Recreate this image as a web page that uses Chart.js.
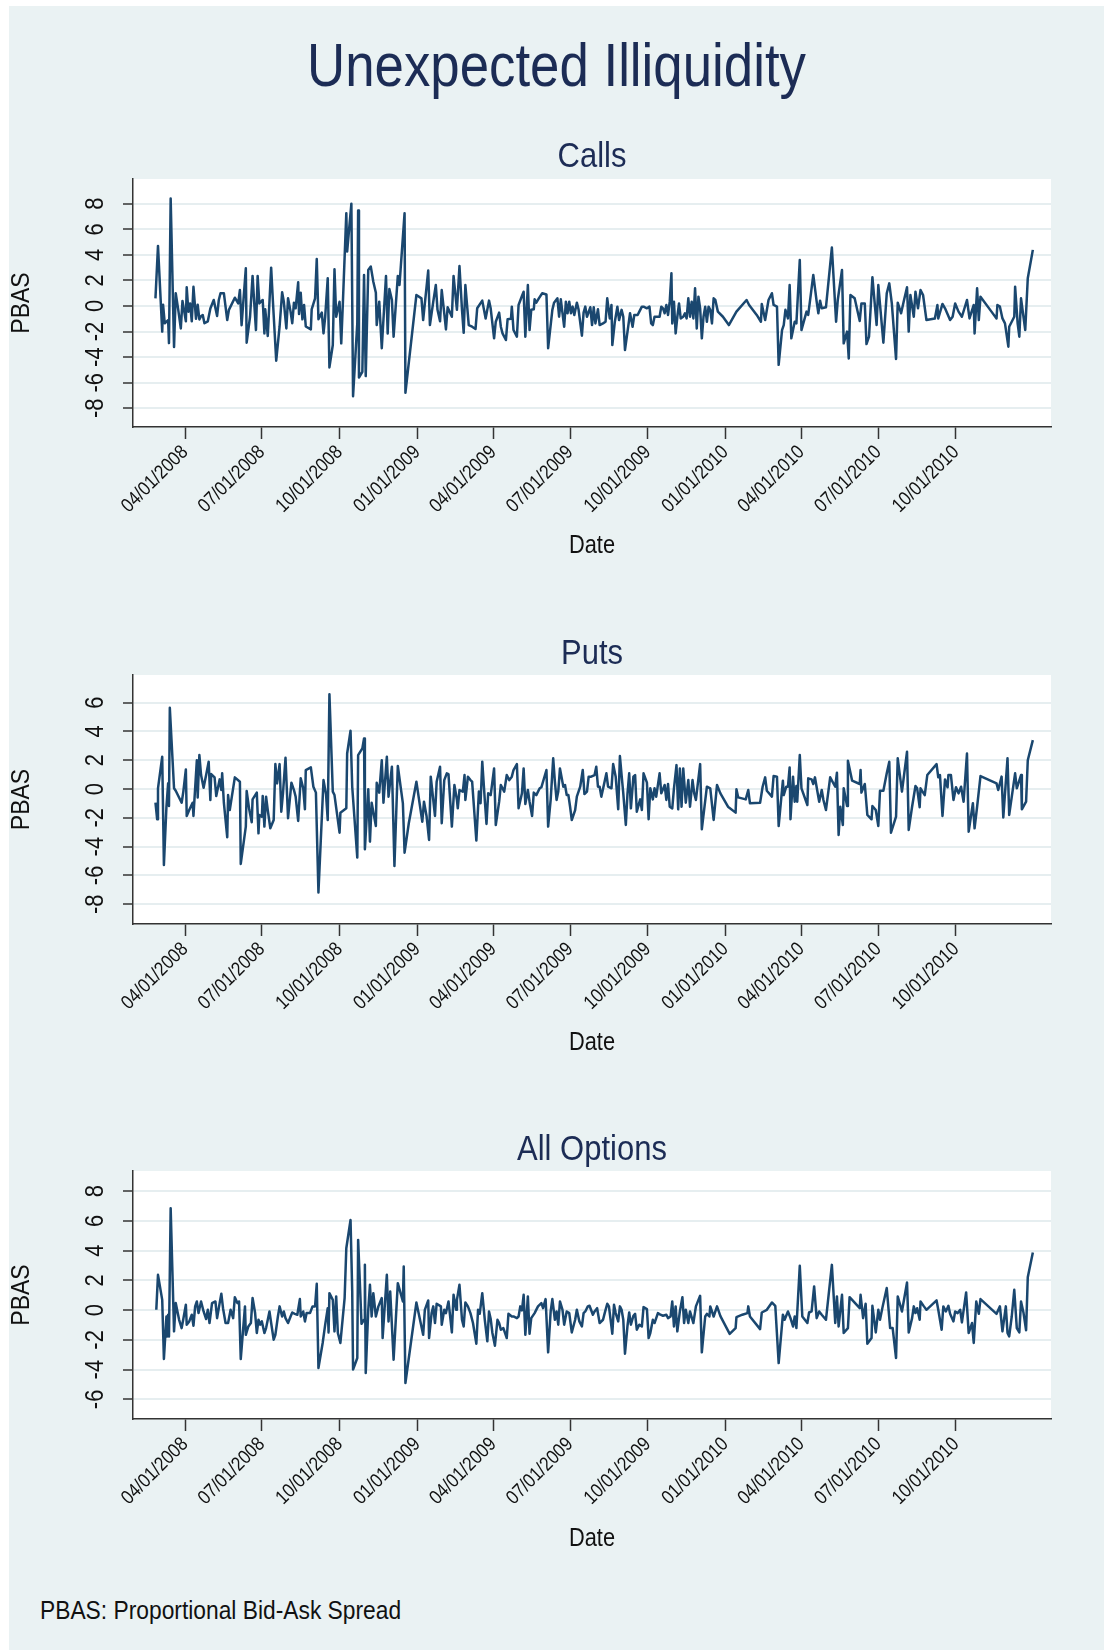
<!DOCTYPE html>
<html><head><meta charset="utf-8">
<script src="https://cdn.jsdelivr.net/npm/chart.js@4.4.1/dist/chart.umd.min.js"></script>
<style>
html,body{margin:0;padding:0;background:#fff;}
#page{position:relative;width:1104px;height:1650px;overflow:hidden;background:#fff;font-family:"Liberation Sans",Arial,Helvetica,sans-serif;}
#bg{position:absolute;left:9px;top:6px;right:0;bottom:0;background:#eaf2f3;}
#title{position:absolute;left:9px;right:0;text-align:center;line-height:1;color:#1c2c55;white-space:nowrap;}
#note{position:absolute;left:40px;line-height:1;color:#111;white-space:nowrap;}
canvas{position:absolute;left:0;}
</style></head><body>
<div id="page">
<div id="bg"></div>
<div id="title">Unexpected Illiquidity</div>
<canvas id="c1" width="1104" height="440" style="top:130px"></canvas>
<canvas id="c2" width="1104" height="450" style="top:620px"></canvas>
<canvas id="c3" width="1104" height="445" style="top:1120px"></canvas>
<div id="note">PBAS: Proportional Bid-Ask Spread</div>
</div>
<script>
// ---- data (x = days since 01/01/2008, y = PBAS) ----
const xTickLabels = ['04/01/2008','07/01/2008','10/01/2008','01/01/2009','04/01/2009','07/01/2009','10/01/2009','01/01/2010','04/01/2010','07/01/2010','10/01/2010'];

const callsDays = [56,59,64,65,67,71,72,74,78,80,83,86,88,92,93,95,97,99,101,104,106,108,110,112,114,118,121,125,129,131,133,137,141,143,150,154,156,158,163,164,168,171,173,175,177,179,183,185,186,189,193,195,199,203,206,208,211,213,216,218,220,222,225,226,228,230,232,234,240,241,245,247,249,253,255,257,260,262,266,268,270,274,276,278,282,283,288,290,295,296,297,301,303,305,308,311,314,317,318,321,324,329,331,333,336,338,343,345,351,352,365,371,373,379,381,385,388,390,393,395,398,400,402,407,409,413,416,419,421,423,427,431,435,437,443,447,451,453,457,459,463,465,467,471,473,477,478,480,484,486,490,492,494,497,499,501,504,505,507,510,514,519,521,526,528,532,534,536,540,542,544,546,548,550,552,555,557,561,563,565,567,571,573,575,577,580,582,586,589,591,594,596,597,600,603,605,608,610,612,615,618,621,623,627,629,632,634,638,641,643,645,647,650,653,655,657,659,661,663,665,667,668,670,672,674,676,678,681,683,685,687,689,691,693,695,697,699,701,703,705,707,709,711,713,715,717,719,722,728,735,744,756,759,768,773,774,778,782,786,788,792,794,798,800,802,805,807,809,813,815,819,821,827,829,835,839,841,843,845,850,857,862,864,869,871,875,877,879,884,890,892,896,898,901,905,910,912,918,922,925,928,933,935,939,942,946,948,950,954,956,959,962,965,969,979,982,983,988,991,997,1000,1003,1007,1011,1017,1020,1025,1026,1029,1031,1033,1046,1052,1053,1056,1059,1062,1066,1067,1073,1074,1077,1079,1081,1086,1089,1095];
const callsPBAS = [0.6,4.7,-2.0,0.1,-1.35,-1.1,-2.9,8.4,-3.2,1.0,-0.3,-1.75,0.4,-1.2,1.46,-0.44,0.2,-1.2,1.5,-1.0,0.1,-1.05,-0.8,-0.7,-1.35,-1.2,-0.2,0.47,-0.78,0.47,1.0,1.0,-1.1,-0.3,0.65,0.2,1.25,-1.5,2.95,-2.87,-0.84,2.35,0.2,-1.88,2.35,0.2,0.47,-2.14,-0.26,-2.35,3.0,0.47,-4.28,-1.6,1.07,0.34,-1.75,0.6,-0.44,-1.35,0.26,-0.18,1.85,-0.63,1.04,-1.04,0.08,-1.6,-1.83,-0.26,0.6,3.68,-1.04,-0.52,-2.14,-0.84,2.17,-4.8,-3.05,2.87,-0.84,0.34,-2.92,0.34,7.26,4.26,8.0,-7.05,-1.35,7.47,-5.59,-5.14,2.43,-5.48,2.82,3.08,1.9,1.04,-1.49,0.34,-3.3,2.35,-2.14,1.33,0.47,-2.4,2.35,1.64,7.26,-6.79,0.86,0.6,-1.1,2.77,-1.49,0.34,1.64,-0.3,-1.2,1.25,-0.57,-1.83,-0.1,-0.84,2.35,-0.3,3.13,-0.3,-2.1,1.64,-1.49,-1.62,-1.8,-0.18,0.42,-0.97,0.42,-0.2,-2.53,-1.23,-0.52,-1.62,-2.14,-2.66,-1.04,-1.0,-0.05,-1.88,-2.4,0.08,0.78,1.12,-2.4,1.64,-1.88,-0.3,-0.26,0.52,0.26,0.6,1.0,0.9,-3.3,-0.3,0.26,0.6,-0.84,0.52,-1.62,0.34,-0.57,0.34,-0.57,-0.05,-0.7,0.26,-0.26,-2.32,-0.52,-0.05,-0.84,-0.1,-1.49,-0.1,-1.36,-0.26,-1.49,-1.36,-1.23,0.6,-0.97,0.08,-3.05,-1.23,-0.05,-1.1,-0.3,-0.84,-3.44,-2.0,-0.57,-1.62,-0.7,-0.7,-0.44,-0.05,-0.05,-0.18,-0.05,-1.36,-1.49,-0.84,-0.84,-0.84,-0.05,-0.18,-0.57,0.08,-0.7,0.34,2.56,-1.36,0.34,-2.14,-0.84,0.2,-0.97,-0.84,-0.57,-0.97,0.6,-0.84,0.34,-0.97,1.38,-1.75,0.73,-0.18,-2.53,-0.84,-0.05,-1.23,-0.05,-0.3,-1.36,0.6,0.47,-0.44,-0.84,-1.49,-0.44,0.47,0.08,-0.7,-1.23,0.16,-1.1,0.47,1.0,0.08,-0.05,-4.6,-1.88,-1.49,-0.3,-0.97,1.64,-2.53,-1.23,-1.36,3.6,-1.88,-0.44,-0.7,2.43,0.34,-0.57,0.42,-0.18,-0.1,4.57,-1.23,0.47,2.82,-2.92,-2.0,-4.1,0.86,0.6,-1.17,0.2,0.2,-2.98,-2.4,2.25,-1.49,1.64,-2.87,1.0,1.77,0.2,-4.15,0.26,-0.57,0.34,1.46,-2.0,0.86,-0.84,1.12,-0.18,1.25,0.86,-1.1,-0.97,0.08,-0.97,0.16,-0.18,-1.1,-0.84,0.2,-0.44,-0.84,0.47,-0.97,0.08,-2.14,1.38,-1.1,0.73,-0.44,-0.97,0.08,-0.05,-0.97,-1.36,-3.18,-1.62,-0.84,1.51,-1.36,-2.4,0.6,-1.88,2.17,4.39];

const putsDays = [56,58,59,64,66,69,71,72,73,78,80,87,89,92,93,96,100,101,105,106,108,110,113,116,119,121,122,126,128,132,134,135,137,141,142,144,150,156,157,163,164,167,170,171,176,178,179,182,183,185,187,189,192,196,198,200,203,205,207,210,213,217,220,222,225,228,231,233,234,240,243,246,249,255,258,260,262,266,268,274,275,282,283,287,289,295,296,301,303,304,308,310,312,317,318,321,324,326,330,332,336,339,343,349,351,356,365,372,374,377,380,382,387,389,393,395,398,401,403,407,410,413,414,416,420,422,423,426,429,431,436,439,441,443,446,448,450,453,457,459,463,465,469,472,475,478,480,484,486,490,492,494,497,499,502,504,507,511,513,519,521,524,527,529,531,533,535,539,541,543,545,547,549,553,555,559,562,564,567,569,572,576,578,580,582,584,587,590,592,596,598,601,604,606,608,610,613,615,617,619,622,624,626,630,632,634,638,640,642,645,647,649,653,655,659,661,663,665,668,670,673,675,677,679,681,684,687,689,692,694,696,701,703,709,713,717,721,725,734,743,744,746,755,758,760,772,775,778,780,786,788,792,794,799,800,803,805,807,808,811,813,815,816,819,821,828,829,833,835,837,839,842,845,847,850,855,861,863,865,867,870,871,875,876,881,890,891,892,896,899,904,905,909,912,914,918,922,925,927,933,935,940,946,948,952,956,958,961,962,967,970,981,983,985,988,991,994,995,998,1001,1004,1007,1010,1013,1017,1019,1024,1026,1029,1033,1052,1054,1058,1060,1065,1067,1074,1076,1081,1082,1087,1089,1095];
const putsPBAS = [-0.95,-2.1,0.05,2.24,-5.27,-1.23,0.4,-1.18,5.64,0.05,-0.12,-0.95,-0.18,1.36,-1.87,-1.46,-0.95,-1.87,2.0,-0.58,2.36,0.97,0.09,0.97,1.9,-0.76,1.04,0.81,-0.49,0.67,-0.07,1.09,-0.95,-3.35,-0.42,-1.46,0.81,0.51,-5.2,-2.61,-0.14,-1.41,-2.31,-0.72,-0.25,-3.08,-1.8,-1.92,-0.49,-2.61,-0.53,-1.46,-2.73,-2.15,1.73,0.39,1.73,-1.57,-0.3,2.17,-2.03,0.44,-0.07,-0.53,-2.22,0.74,0.05,-1.41,1.32,1.5,0.16,-0.25,-7.19,0.62,-0.37,-2.15,6.59,-0.18,-0.42,-3.03,-1.64,-1.34,2.47,4.05,0.16,-4.76,2.36,2.82,3.51,-4.18,-0.02,-3.65,-0.95,-2.57,0.44,-0.25,2.0,-0.95,2.24,-0.53,1.55,-5.34,1.6,-1.0,-4.42,-2.38,0.51,-2.27,-0.88,-1.87,-3.54,0.86,-1.87,0.51,1.55,-2.38,0.62,1.09,1.04,-2.61,0.28,-0.76,-1.34,-0.07,-0.18,0.97,-0.76,0.86,0.62,0.51,-3.58,-0.18,-0.99,1.9,-0.76,-2.43,-0.3,-0.42,1.43,-2.5,-0.88,0.28,-0.18,0.97,0.62,0.86,1.32,1.73,-1.34,-0.3,1.43,-1.04,-0.07,-0.88,-1.87,-0.25,-0.42,0.05,0.12,1.32,-2.61,-0.76,2.13,0.51,-0.76,-0.18,1.43,0.16,0.28,-0.42,-0.42,-1.23,-2.15,-1.46,-0.53,0.16,1.32,-0.35,-0.18,0.86,0.86,0.97,1.55,0.16,0.16,-0.53,0.28,1.09,0.16,0.05,1.73,0.86,-1.41,2.29,0.97,-0.3,-2.5,-0.3,1.09,-1.34,0.86,0.97,-1.57,-0.72,-1.46,1.09,0.44,-2.1,0.05,-0.72,0.05,-0.53,1.09,-0.3,0.28,-0.76,0.35,-1.23,-1.34,0.05,1.66,-1.41,1.43,-1.23,1.43,-0.95,0.62,-1.23,0.62,-0.3,-0.76,1.73,-2.8,0.16,0.05,-2.15,0.28,-0.3,-1.23,-1.64,-0.02,-0.58,-0.72,-0.07,-0.99,-0.95,0.16,0.81,-0.12,-0.53,0.9,0.86,-2.57,0.58,-0.42,0.16,0.16,1.5,-2.1,0.86,-0.88,0.21,-0.88,2.36,0.05,-1.11,0.74,0.67,0.35,0.81,0.12,-0.88,-0.07,-0.76,-1.46,0.81,0.16,1.13,-3.19,-1.23,-2.5,0.05,-1.18,1.97,0.58,0.35,1.32,-0.25,0.35,-1.8,-2.1,-1.18,-1.46,-2.57,-0.12,-0.12,1.09,1.9,-3.03,-1.92,2.13,-0.18,2.59,-2.84,-1.23,0.21,0.05,-1.27,0.05,-0.42,0.97,1.73,0.81,0.97,-1.87,0.67,0.12,0.97,0.97,-0.76,0.12,-0.3,0.16,-0.88,2.47,-2.96,-0.99,-2.73,-1.23,0.9,0.39,-0.07,0.86,-1.97,2.13,-1.8,1.09,0.05,0.97,-1.41,-0.88,2.0,3.4];

const allDays = [57,59,64,66,69,70,71,72,74,78,80,84,87,89,92,93,96,99,101,103,105,107,110,113,116,118,120,123,127,129,132,134,136,139,142,145,148,150,153,155,157,162,163,166,169,171,174,176,178,180,182,185,187,191,193,196,198,201,203,206,208,210,213,216,218,221,224,227,228,231,233,235,239,242,245,247,249,254,257,260,261,262,266,268,270,272,275,280,282,287,289,290,295,296,300,303,304,305,308,310,312,314,317,320,324,325,330,332,334,338,343,349,350,352,365,373,375,379,380,383,385,387,389,394,395,398,400,403,405,407,409,412,413,416,419,421,423,426,429,432,436,438,440,443,446,449,451,453,455,458,461,463,465,468,472,474,478,480,484,486,488,490,492,494,497,499,501,505,509,513,515,518,521,524,526,529,531,533,535,538,540,543,546,549,553,555,558,561,563,565,568,570,574,576,579,582,586,588,591,593,595,597,599,601,604,606,608,610,612,615,617,619,622,624,626,629,632,634,638,640,642,645,647,651,654,657,661,663,666,668,670,672,674,677,680,682,684,687,689,693,696,701,703,707,709,712,713,717,721,725,736,743,744,751,757,758,760,772,774,780,786,790,794,799,801,805,808,811,813,815,819,822,828,830,833,836,839,842,845,850,857,861,863,865,869,871,876,878,890,891,894,897,899,904,905,909,912,914,917,922,926,929,933,935,940,946,948,952,954,956,958,961,962,966,969,981,983,987,989,992,995,997,1001,1003,1006,1009,1011,1016,1019,1023,1025,1028,1031,1033,1052,1056,1059,1063,1065,1067,1070,1073,1076,1079,1081,1084,1087,1089,1095];
const allPBAS = [0.02,2.37,0.69,-3.29,-0.43,-1.77,-0.31,-1.77,6.85,-1.43,0.47,-0.65,-1.21,-0.6,0.36,-0.98,-0.76,-0.31,-1.05,0.25,0.58,-0.2,0.58,-0.09,-0.6,0.02,-0.87,0.47,0.58,-0.54,0.47,1.1,0.13,-0.87,-0.87,0.02,-0.54,0.87,0.47,0.58,-3.29,0.25,-1.66,-1.1,-0.87,0.81,-0.2,-1.54,-0.65,-0.98,-0.76,-1.54,-1.21,-0.09,-0.87,-1.99,-1.66,-0.43,0.25,-0.43,-0.09,-0.54,-0.87,-0.43,-0.16,-0.25,-0.31,0.74,-0.43,-0.09,-0.76,-0.2,-0.2,0.25,0.25,1.77,-3.89,-2.21,-0.98,0.13,-1.5,1.14,0.69,-1.43,0.92,-1.54,-2.21,0.81,4.16,6.06,1.25,-4.0,-3.22,4.72,-0.92,-0.65,3.04,-4.23,0.02,1.7,-0.43,1.14,-0.43,0.25,0.81,-1.88,2.37,-0.76,1.25,-3.33,1.81,0.58,2.93,-4.9,0.51,-1.66,0.02,0.65,-1.88,-0.2,0.25,-0.87,0.43,0.25,-0.98,0.02,-0.2,0.58,-0.43,-1.5,1.03,0.02,0.69,1.7,-0.65,-1.1,0.51,0.25,-0.2,-0.87,-2.26,0.02,-0.25,1.14,-0.65,-2.1,-0.09,-0.6,-1.54,-2.39,-0.65,-0.87,-1.32,-1.21,-1.88,-0.25,-0.43,-0.43,-0.54,-0.43,0.25,-0.02,1.03,-1.66,0.92,-1.59,-0.54,-0.2,0.25,0.47,0.13,0.74,-2.84,-0.09,0.74,-0.65,-0.09,-0.98,0.58,0.02,-0.98,-0.09,-0.2,-1.5,-0.65,0.02,-0.76,-1.1,-0.2,-0.09,0.25,0.29,-0.31,-0.09,0.13,-0.87,-0.65,-0.2,0.43,0.25,-0.65,-1.59,0.36,-0.2,-0.76,0.25,0.02,-0.65,-2.93,-1.05,-0.16,-0.98,-0.38,-0.25,-1.32,-0.98,-1.1,0.2,0.07,-1.88,-1.54,-0.65,-0.87,-0.2,-0.31,-0.38,-0.31,-0.54,-0.43,0.58,-1.1,0.25,-1.43,-0.09,0.87,-0.87,0.02,-0.87,-0.09,-0.87,0.25,0.96,-2.84,-0.43,-0.25,-0.43,0.25,-0.43,0.25,-0.4,-1.6,-1.21,-0.47,-0.31,-0.2,0.25,-0.43,-1.28,-0.16,0.02,0.51,0.29,-3.56,-0.31,-0.65,-0.09,-0.54,-1.1,-0.43,-1.21,2.98,-0.43,-0.87,-0.16,-0.09,1.59,-0.54,-0.09,-0.31,-0.65,3.04,-0.87,0.92,-1.1,1.03,-1.54,-1.21,0.87,0.13,1.03,-0.54,0.43,-2.26,-1.88,0.29,-1.5,0.02,-0.65,0.2,1.48,-1.21,-1.21,-3.22,0.92,-0.09,1.86,-1.5,-0.54,0.25,-0.2,0.13,-0.65,0.58,0.25,0.02,0.65,0.02,-1.32,0.25,-0.09,0.29,-0.25,-0.76,-0.09,-0.2,0.02,-0.83,1.19,-1.54,-0.87,-2.21,0.58,-0.25,0.74,-0.25,0.25,-1.43,0.25,-1.54,-1.77,-0.43,1.36,-1.21,-1.5,0.58,-0.2,-1.36,2.21,3.87];

const yTicksCalls = [-8,-6,-4,-2,0,2,4,6,8];
const yTicksPuts  = [-8,-6,-4,-2,0,2,4,6];
const yTicksAll   = [-6,-4,-2,0,2,4,6,8];

// ---- styling ----
const FONT = '"Liberation Sans", Arial, Helvetica, sans-serif';
const TALL = 1.16;   // reference lettering is taller than wide (condensed look)
const S_TITLE = 52.8, S_SUB = 31, S_DATE = 21.8, S_NOTE = 22.8, S_XT = 17, S_YT = 22, S_PBAS = 23;

const mctx = document.createElement('canvas').getContext('2d');
function tw(font, txt){ mctx.font = font; return mctx.measureText(txt).width; }

function placeHtmlText(el, size, capCenterY){
  el.style.fontSize = size + 'px';
  const off = 0.4885 * size;
  el.style.top = (capCenterY - off) + 'px';
  el.style.transformOrigin = '50% ' + off + 'px';
  el.style.transform = 'scaleY(' + TALL + ')';
}
placeHtmlText(document.getElementById('title'), S_TITLE, 64.5);
placeHtmlText(document.getElementById('note'), S_NOTE, 1610.5);

const dayOf = mdy => { const [m,d,y] = mdy.split('/').map(Number); return Math.round((Date.UTC(y,m-1,d) - Date.UTC(2008,0,1)) / 86400000); };
const xTickDays = xTickLabels.map(dayOf);
const X_MIN = 29.4, X_MAX = 1116.5;

const whiteArea = { id:'whiteArea', beforeDraw(chart){ const a = chart.chartArea; const c = chart.ctx; c.save(); c.fillStyle = '#ffffff'; c.fillRect(a.left, a.top, a.right - a.left, a.bottom - a.top); c.restore(); } };
// draws every label of the chart slightly taller, around its own anchor line
const tallText = { id:'tallText', beforeInit(chart){
  const ctx = chart.ctx; const fill = ctx.fillText;
  ctx.fillText = function(txt, x, y, maxW){ this.save(); this.translate(x, y); this.scale(1, TALL);
    if (maxW === undefined) fill.call(this, txt, 0, 0); else fill.call(this, txt, 0, 0, maxW); this.restore(); };
} };

function panel(id, titleText, days, vals, yMin, yMax, yTicks, canvasTop, canvasH, chartTop, chartBottom, titleY, dateY){
  const tPadTop = titleY - canvasTop - S_SUB / 2;
  const tPadBot = chartTop - titleY - S_SUB / 2;
  const xAxisH = canvasTop + canvasH - chartBottom;
  const datePadBot = canvasTop + canvasH - dateY - S_DATE * 0.6;
  const pbasPad = 21.5 - S_PBAS * 0.6;
  const widest = Math.max(...yTicks.map(v => tw(S_YT + 'px ' + FONT, String(v))));
  const ytPad = 133 - 10 - 96 - widest / 2;
  new Chart(document.getElementById(id), {
    type: 'line',
    data: { datasets: [{ data: days.map((d,i)=>({x:d, y:vals[i]})), borderColor:'#1a476f', borderWidth:2.5, pointRadius:0, tension:0, fill:false, borderJoinStyle:'round' }] },
    options: {
      responsive:false, animation:false, devicePixelRatio:1,
      layout:{ padding:{ left:0, right:53, top:0, bottom:0 } },
      plugins:{
        legend:{ display:false }, tooltip:{ enabled:false },
        title:{ display:true, text:titleText, fullSize:false, color:'#1c2c55', font:{ family:FONT, size:S_SUB, weight:'normal', lineHeight:1 }, padding:{ top:tPadTop, bottom:tPadBot } }
      },
      scales:{
        x:{ type:'linear', min:X_MIN, max:X_MAX, position:'bottom',
            afterBuildTicks: s => { s.ticks = xTickDays.map(v => ({ value:v })); },
            afterFit: s => { s.height = xAxisH; },
            ticks:{ autoSkip:false, maxRotation:45, minRotation:45, padding:3, color:'#111', font:{ family:FONT, size:S_XT }, callback:(v,i) => xTickLabels[i] },
            grid:{ drawOnChartArea:false, drawTicks:true, tickLength:12, tickColor:'#333', tickWidth:1.5 },
            border:{ display:true, color:'#333', width:1.5 },
            title:{ display:true, text:'Date', color:'#111', font:{ family:FONT, size:S_DATE, lineHeight:1.2 }, padding:{ top:0, bottom:datePadBot } } },
        y:{ type:'linear', min:yMin, max:yMax,
            afterBuildTicks: s => { s.ticks = yTicks.map(v => ({ value:v })); },
            afterFit: s => { s.width = 133; },
            ticks:{ autoSkip:false, minRotation:90, maxRotation:90, crossAlign:'center', padding:ytPad, color:'#111', font:{ family:FONT, size:S_YT }, callback:(v) => String(v) },
            grid:{ color:'#e6eef0', lineWidth:2, tickColor:'#333', tickLength:10, tickWidth:1.5 },
            border:{ display:true, color:'#333', width:1.5 },
            title:{ display:true, text:'PBAS', color:'#111', font:{ family:FONT, size:S_PBAS, lineHeight:1.2 }, padding:{ top:pbasPad, bottom:0 } } }
      }
    },
    plugins:[whiteArea, tallText]
  });
}

panel('c1', 'Calls', callsDays, callsPBAS, -9.46, 9.93, yTicksCalls, 130, 440, 179, 427, 157, 546);
panel('c2', 'Puts', putsDays, putsPBAS, -9.375, 7.92, yTicksPuts, 620, 450, 675, 924, 654.5, 1043);
panel('c3', 'All Options', allDays, allPBAS, -7.32, 9.35, yTicksAll, 1120, 445, 1171, 1419, 1150, 1539);
</script>
</body></html>
